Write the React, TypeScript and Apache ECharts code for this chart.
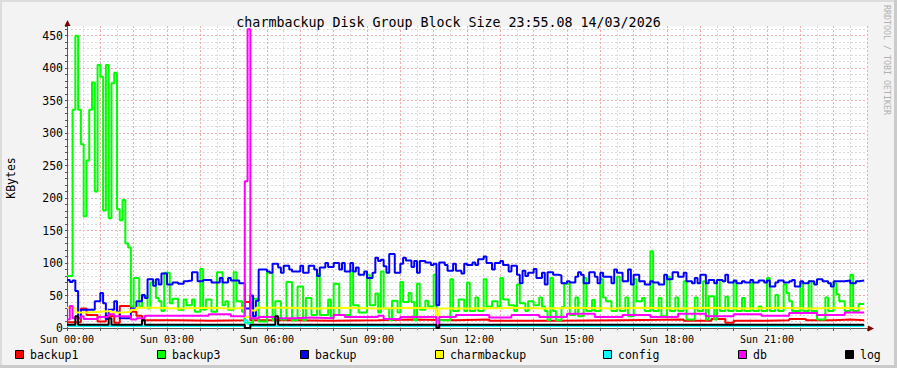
import React, { useEffect, useRef } from "react";
import * as echarts from "echarts";

const TITLE = "charmbackup Disk Group Block Size 23:55.08 14/03/2026";
const Y_UNIT = "KBytes";
const WATERMARK = "RRDTOOL / TOBI OETIKER";
const DAY_NAME = "Sun";
const X_LABEL_HOURS = [0, 3, 6, 9, 12, 15, 18, 21];
const Y_LABEL_VALUES = [0, 50, 100, 150, 200, 250, 300, 350, 400, 450];

const seriesNames = ["backup1", "backup3", "backup", "charmbackup", "config", "db", "log"];
const seriesColors = ["#ff0000", "#00ff00", "#0000ff", "#ffff00", "#00ffff", "#ff00ff", "#000000"];

// [minutes since Sun 00:00, KBytes] at every change of value (held until the next point)
const backup1 = [[0,9],[25,30],[35,20],[55,10],[70,18],[85,8],[95,34],[115,25],[125,19],[135,12],[200,11],[260,12],[320,40],[330,12],[400,11],[480,12],[560,13],[620,12],[700,13],[760,11],[880,12],[1000,13],[1110,11],[1160,14],[1185,8],[1200,11],[1260,12],[1300,14],[1330,12],[1380,13],[1410,12],[1435,12]];

const backup3 = [[0,80],[10,336],[15,450],[20,336],[25,283],[30,172],[35,258],[40,336],[45,378],[50,210],[55,405],[60,387],[65,181],[70,405],[75,169],[80,377],[85,393],[90,183],[95,166],[100,197],[105,130],[110,124],[115,33],[120,77],[130,33],[135,49],[145,30],[150,70],[160,46],[165,41],[170,26],[175,85],[185,38],[190,45],[200,28],[210,44],[215,35],[225,44],[230,25],[240,91],[245,28],[250,44],[260,25],[270,86],[280,35],[285,41],[290,28],[300,86],[305,41],[315,25],[320,8],[335,45],[345,10],[360,85],[370,12],[375,41],[385,13],[395,71],[405,12],[415,64],[425,12],[430,46],[440,20],[450,83],[455,20],[470,44],[475,15],[480,68],[490,20],[510,88],[515,35],[525,24],[540,82],[545,35],[555,53],[560,24],[565,87],[570,30],[580,12],[585,42],[595,24],[600,71],[605,40],[615,54],[620,40],[625,12],[630,68],[635,28],[645,42],[650,33],[660,82],[665,12],[690,75],[695,26],[705,44],[715,26],[720,70],[725,26],[735,47],[740,26],[750,75],[755,33],[765,41],[775,33],[780,77],[785,44],[795,35],[805,26],[810,67],[815,38],[825,26],[830,41],[840,35],[850,47],[855,33],[860,26],[865,12],[870,77],[875,26],[880,12],[890,32],[895,68],[905,20],[915,47],[920,18],[930,77],[935,26],[945,43],[950,26],[960,75],[965,47],[970,41],[980,26],[990,79],[995,26],[1005,47],[1010,18],[1020,75],[1025,41],[1035,46],[1040,26],[1050,118],[1055,26],[1065,46],[1070,18],[1080,79],[1085,26],[1095,47],[1100,26],[1110,72],[1115,13],[1130,47],[1135,26],[1145,72],[1150,13],[1155,49],[1165,13],[1170,74],[1175,26],[1185,48],[1190,26],[1200,72],[1205,26],[1215,46],[1220,26],[1230,69],[1235,26],[1245,33],[1250,26],[1260,77],[1265,26],[1275,51],[1280,26],[1290,67],[1295,54],[1300,41],[1305,26],[1320,69],[1325,26],[1335,72],[1340,26],[1350,13],[1365,47],[1370,26],[1380,69],[1385,52],[1390,41],[1400,26],[1410,82],[1415,26],[1425,37],[1435,37]];

const backup = [[0,74],[5,71],[10,73],[15,57],[20,15],[25,28],[50,41],[60,54],[65,38],[70,14],[75,28],[85,41],[90,25],[95,15],[115,30],[125,41],[135,51],[140,46],[145,75],[155,65],[160,75],[165,67],[170,84],[180,67],[190,70],[200,68],[210,72],[215,73],[225,86],[235,72],[245,74],[260,70],[275,77],[280,70],[290,77],[295,73],[310,69],[320,30],[330,50],[335,18],[340,42],[345,90],[360,87],[365,85],[370,99],[380,93],[385,85],[390,96],[400,90],[405,87],[420,96],[425,85],[435,96],[445,90],[450,80],[455,93],[465,100],[470,94],[480,100],[490,90],[495,100],[500,87],[510,100],[515,87],[520,93],[525,82],[535,87],[540,77],[550,85],[555,108],[560,103],[565,105],[570,95],[575,85],[580,114],[590,85],[600,99],[605,108],[610,104],[620,94],[625,103],[630,85],[635,103],[645,101],[655,97],[660,99],[665,35],[670,101],[680,97],[685,88],[695,99],[700,88],[710,84],[715,99],[720,97],[730,101],[735,97],[740,106],[750,110],[755,100],[765,90],[770,100],[780,103],[785,97],[795,87],[800,96],[810,82],[815,69],[820,88],[825,80],[830,85],[840,91],[845,77],[855,85],[860,67],[865,86],[875,82],[885,81],[890,69],[900,72],[905,70],[915,79],[920,86],[925,82],[930,69],[940,86],[950,79],[955,69],[960,85],[965,79],[980,69],[985,90],[990,85],[1000,72],[1010,90],[1015,67],[1020,82],[1030,72],[1040,67],[1050,72],[1055,70],[1065,67],[1075,82],[1080,75],[1090,86],[1100,79],[1110,85],[1115,72],[1125,69],[1130,77],[1135,69],[1140,82],[1150,69],[1155,74],[1165,69],[1170,74],[1180,72],[1185,82],[1190,70],[1200,73],[1205,69],[1215,72],[1220,70],[1230,74],[1235,70],[1245,73],[1255,70],[1260,73],[1265,64],[1275,70],[1280,73],[1290,70],[1300,72],[1305,74],[1310,64],[1320,72],[1325,69],[1335,72],[1345,67],[1350,75],[1360,72],[1370,69],[1375,64],[1380,72],[1400,73],[1410,69],[1420,72],[1425,73],[1435,73]];

const charmbackup = [[0,31],[15,24],[40,25],[60,26],[80,24],[100,25],[115,28],[125,31],[160,30],[200,31],[250,30],[300,31],[320,17],[330,27],[340,31],[400,30],[450,31],[500,30],[560,31],[620,30],[665,14],[670,30],[720,31],[800,30],[860,31],[920,30],[980,31],[1040,30],[1100,31],[1160,30],[1220,31],[1280,30],[1340,31],[1400,30],[1435,30]];

const config = [[0,3],[320,12],[325,6],[330,3],[1435,3]];

const db = [[0,13],[5,34],[10,15],[25,18],[30,14],[55,17],[75,21],[85,18],[115,13],[125,15],[140,19],[255,21],[295,18],[320,226],[325,460],[330,15],[345,17],[375,15],[410,16],[440,15],[480,20],[500,17],[560,19],[570,14],[600,17],[665,2],[670,17],[700,20],[760,16],[800,20],[850,17],[900,22],[950,17],[1000,20],[1050,17],[1100,22],[1150,18],[1200,21],[1250,19],[1300,23],[1350,20],[1400,24],[1435,23]];

const log = [[0,5],[15,18],[20,5],[75,15],[80,5],[135,12],[140,5],[320,0],[330,5],[375,18],[380,5],[665,0],[670,5],[1435,5]];

const seriesData = [backup1, backup3, backup, charmbackup, config, db, log];

const MONO = "'DejaVu Sans Mono', monospace";
const MINOR = "#dadada";
const MAJOR = "#f3aaaa";
const AXIS = "#555555";
const ARROW = "#800000";

const pad2 = (n: number) => (n < 10 ? "0" + n : String(n));

export default function App() {
  const ref = useRef<HTMLDivElement>(null);

  useEffect(() => {
    if (!ref.current) return;
    const chart = echarts.init(ref.current, null, { renderer: "svg" });

    const legendX = [15, 157, 300, 435, 603, 738, 845];
    const graphics: any[] = [
      { type: "rect", silent: true, shape: { x: 0, y: 0, width: 897, height: 2 }, style: { fill: "#dcdcdc" } },
      { type: "rect", silent: true, shape: { x: 0, y: 0, width: 2, height: 368 }, style: { fill: "#dcdcdc" } },
      { type: "rect", silent: true, shape: { x: 894, y: 0, width: 3, height: 368 }, style: { fill: "#cbcbcb" } },
      { type: "rect", silent: true, shape: { x: 0, y: 365, width: 897, height: 3 }, style: { fill: "#cbcbcb" } },
      // axis extensions and arrows
      { type: "line", silent: true, z: 10, shape: { x1: 67.5, y1: 26, x2: 67.5, y2: 22 }, style: { stroke: AXIS, lineWidth: 1 } },
      { type: "line", silent: true, z: 10, shape: { x1: 63, y1: 328.5, x2: 67, y2: 328.5 }, style: { stroke: AXIS, lineWidth: 1 } },
      { type: "line", silent: true, z: 10, shape: { x1: 867, y1: 328.5, x2: 871, y2: 328.5 }, style: { stroke: AXIS, lineWidth: 1 } },
      { type: "polygon", silent: true, z: 10, shape: { points: [[64.5, 26], [70.5, 26], [67.5, 20]] }, style: { fill: ARROW } },
      { type: "polygon", silent: true, z: 10, shape: { points: [[868, 325.5], [868, 331.5], [874, 328.5]] }, style: { fill: ARROW } },
      {
        type: "text", silent: true, x: 11, y: 178, rotation: Math.PI / 2,
        style: { text: Y_UNIT, font: `11.5px ${MONO}`, fill: "#000", textAlign: "center", textVerticalAlign: "middle" },
      },
      {
        type: "text", silent: true, x: 887, y: 60, rotation: -Math.PI / 2,
        style: { text: WATERMARK, font: `8.3px ${MONO}`, fill: "#b0b0b0", textAlign: "center", textVerticalAlign: "middle" },
      },
    ];
    seriesNames.forEach((name, i) => {
      graphics.push({
        type: "rect", silent: true,
        shape: { x: legendX[i] + 0.5, y: 350.5, width: 8, height: 8 },
        style: { fill: seriesColors[i], stroke: "#000", lineWidth: 1 },
      });
      graphics.push({
        type: "text", silent: true, x: legendX[i] + 15, y: 354.5,
        style: { text: name, font: `11.5px ${MONO}`, fill: "#000", textAlign: "left", textVerticalAlign: "middle" },
      });
    });

    chart.setOption({
      animation: false,
      backgroundColor: "#f3f3f3",
      title: {
        text: TITLE,
        left: "center",
        top: 11,
        textStyle: { fontFamily: MONO, fontSize: 13.3, fontWeight: "normal", color: "#000" },
      },
      grid: { left: 67, right: 30, top: 26, bottom: 40, show: true, backgroundColor: "#ffffff", borderWidth: 0 },
      xAxis: {
        type: "value",
        min: 0,
        max: 1440,
        interval: 60,
        axisLine: { show: true, lineStyle: { color: AXIS, width: 1 } },
        axisTick: { show: true, length: 3, lineStyle: { color: AXIS } },
        minorTick: { show: true, splitNumber: 2, length: 2, lineStyle: { color: "#888" } },
        splitLine: { show: true, showMinLine: false, lineStyle: { color: MAJOR, type: [2, 2], width: 1 } },
        minorSplitLine: { show: true, lineStyle: { color: MINOR, type: [2, 2], width: 1 } },
        axisLabel: {
          fontFamily: MONO,
          fontSize: 10,
          color: "#000",
          margin: 6,
          formatter: (v: number) => {
            const h = v / 60;
            return X_LABEL_HOURS.indexOf(h) >= 0 ? `${DAY_NAME} ${pad2(h)}:00` : "";
          },
        },
      },
      yAxis: [
        {
          type: "value",
          min: 0,
          max: 465,
          interval: 10,
          position: "left",
          axisLine: { show: true, lineStyle: { color: AXIS, width: 1 } },
          axisTick: { show: true, length: 2, lineStyle: { color: AXIS } },
          axisLabel: {
            fontFamily: MONO,
            fontSize: 11.5,
            color: "#000",
            margin: 4,
            formatter: (v: number) => (Y_LABEL_VALUES.indexOf(v) >= 0 ? String(v) : ""),
          },
          splitLine: { show: true, showMinLine: false, showMaxLine: false, lineStyle: { color: MINOR, type: [2, 2], width: 1 } },
        },
        {
          type: "value",
          min: 0,
          max: 465,
          interval: 50,
          position: "left",
          axisLine: { show: false },
          axisTick: { show: false },
          axisLabel: { show: false },
          splitLine: { show: true, showMinLine: false, showMaxLine: false, lineStyle: { color: MAJOR, type: [2, 2], width: 1 } },
        },
      ],
      graphic: graphics,
      series: seriesNames.map((name, i) => ({
        name,
        type: "line",
        step: "end",
        xAxisIndex: 0,
        yAxisIndex: 0,
        data: seriesData[i],
        showSymbol: false,
        symbol: "none",
        silent: true,
        lineStyle: { color: seriesColors[i], width: 2 },
        itemStyle: { color: seriesColors[i] },
      })),
    });

    return () => chart.dispose();
  }, []);

  return <div ref={ref} style={{ position: "fixed", left: 0, top: 0, width: 897, height: 368 }} />;
}
